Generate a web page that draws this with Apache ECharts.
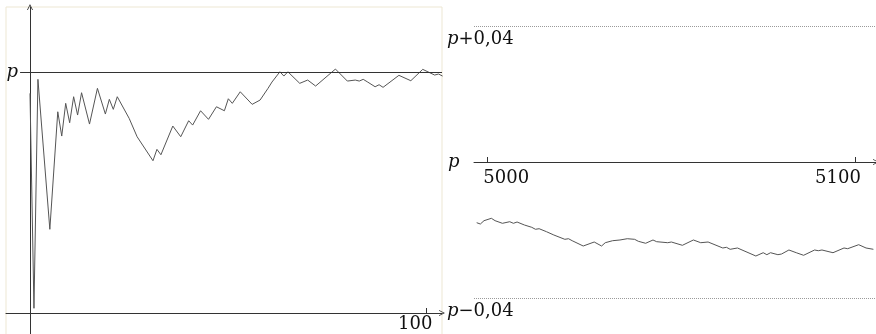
<!DOCTYPE html>
<html>
<head>
<meta charset="utf-8">
<script src="https://cdn.jsdelivr.net/npm/echarts@6/dist/echarts.min.js"></script>
<style>
  html, body { margin: 0; padding: 0; background: #fff; }
  #chart { width: 876px; height: 334px; }
</style>
</head>
<body>
<div id="chart"></div>
<script>
// probability p of the event (value used for the limit line)
const P = 0.5;
// half-width of the band drawn around p for large n
const BAND = 0.04;

// first trials: relative frequency f_n after n trials
const earlyN = [0, 1, 2, 5, 7, 8, 9, 10, 11, 12, 13, 15, 17, 19, 20, 21, 22, 25, 27, 31,
  32, 33, 36, 38, 40, 41, 43, 45, 47, 49, 50, 51, 53, 56, 58, 60, 61, 63, 64, 65,
  68, 70, 72, 77, 80, 82, 83, 84, 85, 87, 88, 89, 93, 96, 99, 102, 103, 104];
const earlyF = [0.4558, 0.0098, 0.4849, 0.1737, 0.4176, 0.3672, 0.4351, 0.3948, 0.4488, 0.4108,
  0.4571, 0.3921, 0.4662, 0.4129, 0.4434, 0.4226, 0.4488, 0.4039, 0.3658, 0.316,
  0.3396, 0.3284, 0.388, 0.3658, 0.399, 0.39, 0.4197, 0.4019, 0.428, 0.4197,
  0.4446, 0.4351, 0.4591, 0.433, 0.4419, 0.4662, 0.4793, 0.5006, 0.4917, 0.5006,
  0.4766, 0.4834, 0.471, 0.5062, 0.4813, 0.4834, 0.4813, 0.4849, 0.4799, 0.4695,
  0.4737, 0.4683, 0.4932, 0.482, 0.5056, 0.4938, 0.4959, 0.4917];

// trials around n = 5000: deviation f_n - p
const lateN = [4997, 4998, 4999, 5001, 5002, 5004, 5006, 5007, 5008, 5010,
  5012, 5013, 5014, 5016, 5018, 5021, 5022, 5023, 5026, 5029,
  5031, 5032, 5034, 5036, 5038, 5040, 5041, 5043, 5045, 5046,
  5049, 5050, 5053, 5056, 5058, 5060, 5064, 5065, 5066, 5068,
  5073, 5075, 5076, 5077, 5079, 5080, 5082, 5084, 5086, 5089,
  5090, 5091, 5094, 5097, 5098, 5101, 5103, 5105];
const lateDev = [-0.01785, -0.01824, -0.01726, -0.01656, -0.01726, -0.01803, -0.01756, -0.01803, -0.01765, -0.01853,
  -0.01921, -0.01979, -0.01962, -0.0205, -0.02147, -0.02274, -0.02256, -0.02315, -0.02471, -0.02353,
  -0.02471, -0.02374, -0.02315, -0.02294, -0.02256, -0.02274, -0.02332, -0.02391, -0.02294, -0.02344,
  -0.02374, -0.02353, -0.0245, -0.02294, -0.02374, -0.02353, -0.02529, -0.02509, -0.02568, -0.02529,
  -0.02765, -0.02668, -0.02726, -0.02668, -0.02726, -0.02706, -0.02588, -0.02668, -0.02744, -0.02588,
  -0.02609, -0.02588, -0.02668, -0.02529, -0.0255, -0.02432, -0.02529, -0.02568];

// tick labels
const earlyTicks = [100];
const lateTicks = [5000, 5100];

const SERIF = 'DejaVu Serif';
const AXIS = '#333';
const CURVE = '#555';
// thin open arrow head, drawn pointing up and rotated by the axis
const ARROW = 'path://M0,10 L5,0 L10,10 L8.6,10 L5,2.8 L1.4,10 Z';

// left panel: plot box and where the axes cross inside it
const L = { left: 6, top: 7, width: 436, height: 329 };
const L_XMIN = -6.05, L_XMAX = 103.86, L_YMIN = -0.0477, L_YMAX = 0.635;
// right panel: plot box
const R = { left: 474, top: 26, width: 402, height: 272 };
const R_XMIN = 4996.27, R_XMAX = 5105.71;

// distance from the box edge to the zero line of an axis range
const zeroFromLow = (len, lo, hi) => len * (0 - lo) / (hi - lo);

const numText = { fontFamily: SERIF, fontSize: 18, color: '#111' };
const fmtBand = v => '{i|p}{n|' + (v > 0 ? '+' : '\u2212') + String(Math.abs(v)).replace('.', ',') + '}';

const chart = echarts.init(document.getElementById('chart'), null, { renderer: 'canvas' });
chart.setOption({
  animation: false,
  backgroundColor: '#fff',
  grid: [
    Object.assign({ outerBoundsMode: 'none', containLabel: false, show: true, borderColor: '#ede7d3', borderWidth: 1, backgroundColor: 'transparent' }, L),
    Object.assign({ outerBoundsMode: 'none', containLabel: false }, R)
  ],
  xAxis: [
    {
      type: 'value', gridIndex: 0, min: L_XMIN, max: L_XMAX, position: 'bottom',
      offset: -zeroFromLow(L.height, L_YMIN, L_YMAX),
      axisLine: { show: true, onZero: false, symbol: ['none', ARROW], symbolSize: [8, 6], lineStyle: { color: AXIS, width: 1 } },
      axisTick: { show: true, customValues: earlyTicks, inside: true, length: 5, lineStyle: { color: AXIS } },
      axisLabel: {
        customValues: earlyTicks, margin: 2,
        formatter: v => '{r|' + v + '}',
        rich: { r: Object.assign({ padding: [0, 23, 0, 0] }, numText) }
      },
      splitLine: { show: false }
    },
    {
      type: 'value', gridIndex: 1, min: R_XMIN, max: R_XMAX, position: 'bottom',
      offset: -R.height / 2,
      axisLine: { show: true, onZero: false, symbol: ['none', ARROW], symbolSize: [8, 6], lineStyle: { color: AXIS, width: 1 } },
      axisTick: { show: true, customValues: lateTicks, inside: true, length: 5, lineStyle: { color: AXIS } },
      axisLabel: {
        customValues: lateTicks, margin: 7,
        formatter: v => (v === lateTicks[0] ? '{a|' : '{b|') + v + '}',
        rich: {
          a: Object.assign({ padding: [0, 0, 0, 37] }, numText),
          b: Object.assign({ padding: [0, 34, 0, 0] }, numText)
        }
      },
      splitLine: { show: false }
    }
  ],
  yAxis: [
    {
      type: 'value', gridIndex: 0, min: L_YMIN, max: L_YMAX, position: 'left',
      offset: -zeroFromLow(L.width, L_XMIN, L_XMAX),
      axisLine: { show: true, onZero: false, symbol: ['none', ARROW], symbolSize: [8, 6], lineStyle: { color: AXIS, width: 1 } },
      axisTick: { show: false },
      axisLabel: { customValues: [P], formatter: () => 'p', margin: 12, fontFamily: SERIF, fontStyle: 'italic', fontSize: 18, color: '#111' },
      splitLine: { show: false }
    },
    {
      type: 'value', gridIndex: 1, min: -BAND, max: BAND, interval: BAND, position: 'left',
      axisLine: { show: false, onZero: false },
      axisTick: { show: false },
      axisLabel: { customValues: [0], formatter: () => 'p', margin: 26, align: 'left', fontFamily: SERIF, fontStyle: 'italic', fontSize: 18, color: '#111' },
      splitLine: { show: true, lineStyle: { color: '#9a9a9a', width: 1, type: [1, 1] } }
    },
    {
      type: 'value', gridIndex: 1, min: -BAND, max: BAND, interval: BAND, position: 'left', offset: 0,
      axisLine: { show: false, onZero: false },
      axisTick: { show: false },
      axisLabel: {
        customValues: [BAND, -BAND], formatter: fmtBand, margin: 27, align: 'left', verticalAlign: 'top', padding: [4, 0, 0, 0],
        rich: {
          i: Object.assign({}, numText, { fontStyle: 'italic' }),
          n: Object.assign({}, numText)
        }
      },
      splitLine: { show: false }
    }
  ],
  series: [
    {
      type: 'line', xAxisIndex: 0, yAxisIndex: 0, showSymbol: false, silent: true,
      lineStyle: { color: CURVE, width: 1 },
      data: earlyN.map((n, i) => [n, earlyF[i]]),
      markLine: {
        silent: true, symbol: 'none', label: { show: false },
        lineStyle: { color: AXIS, width: 1, type: 'solid' },
        data: [[{ coord: [-2.5, P] }, { coord: [L_XMAX, P] }]]
      }
    },
    {
      type: 'line', xAxisIndex: 1, yAxisIndex: 1, showSymbol: false, silent: true,
      lineStyle: { color: CURVE, width: 1 },
      data: lateN.map((n, i) => [n, lateDev[i]])
    }
  ]
});
</script>
</body>
</html>
